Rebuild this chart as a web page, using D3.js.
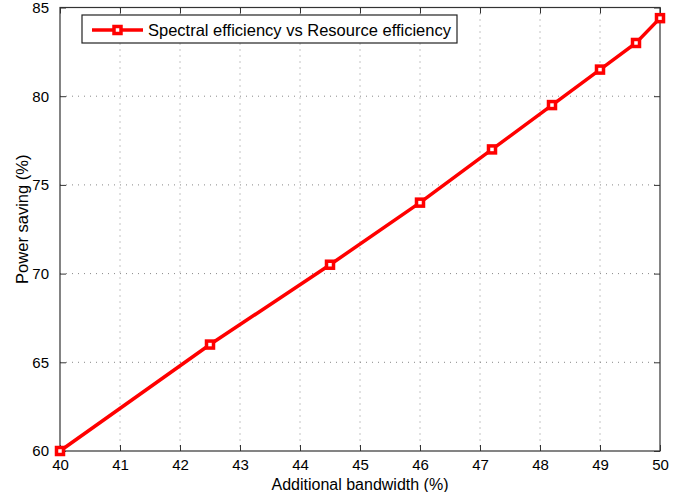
<!DOCTYPE html>
<html>
<head>
<meta charset="utf-8">
<script src="https://cdn.jsdelivr.net/npm/d3@7"></script>
<style>
  body { margin: 0; background: #fff; }
  svg text { font-family: "Liberation Sans", Arial, sans-serif; fill: #000; }
</style>
</head>
<body>
<svg class="chart" width="684" height="492"></svg>
<script>
// data
const bandwidth = [40, 42.5, 44.5, 46, 47.2, 48.2, 49, 49.6, 50];
const powerSaving = [60, 66, 70.5, 74, 77, 79.5, 81.5, 83, 84.4];
const xTicks = [40, 41, 42, 43, 44, 45, 46, 47, 48, 49, 50];
const yTicks = [60, 65, 70, 75, 80, 85];
const seriesName = "Spectral efficiency vs Resource efficiency";

const margin = {top: 7.5, right: 24, bottom: 41, left: 60},
    width = 684 - margin.left - margin.right,
    height = 492 - margin.top - margin.bottom;

const svg = d3.select(".chart")
    .append("g")
    .attr("transform", `translate(${margin.left},${margin.top})`);

const x = d3.scaleLinear().domain([40, 50]).range([0, width]);
const y = d3.scaleLinear().domain([60, 85]).range([height, 0]);

// grid
svg.append("g")
    .selectAll("line")
    .data(xTicks.slice(1, -1))
    .enter().append("line")
    .attr("x1", d => x(d)).attr("x2", d => x(d))
    .attr("y1", 0).attr("y2", height)
    .attr("stroke", "#888").attr("stroke-width", 1)
    .attr("stroke-dasharray", "1,5");

svg.append("g")
    .selectAll("line")
    .data(yTicks.slice(1, -1))
    .enter().append("line")
    .attr("y1", d => y(d)).attr("y2", d => y(d))
    .attr("x1", 0).attr("x2", width)
    .attr("stroke", "#888").attr("stroke-width", 1)
    .attr("stroke-dasharray", "1,5");

// axes, ticks inward like matlab
const tickStyle = g => {
    g.select(".domain").remove();
    g.selectAll(".tick line").attr("stroke", "#333");
    g.selectAll(".tick text")
        .style("font-size", "15px")
        .style("font-family", "Liberation Sans, Arial, sans-serif");
};

svg.append("g")
    .attr("transform", `translate(0,${height})`)
    .call(d3.axisBottom(x).tickValues(xTicks).tickSize(-6).tickPadding(8).tickFormat(d3.format("d")))
    .call(tickStyle);

svg.append("g")
    .call(d3.axisTop(x).tickValues(xTicks).tickSize(-6).tickFormat(""))
    .call(tickStyle);

svg.append("g")
    .call(d3.axisLeft(y).tickValues(yTicks).tickSize(-6).tickPadding(11).tickFormat(d3.format("d")))
    .call(tickStyle);

svg.append("g")
    .attr("transform", `translate(${width},0)`)
    .call(d3.axisRight(y).tickValues(yTicks).tickSize(-6).tickFormat(""))
    .call(tickStyle);

// box
svg.append("rect")
    .attr("width", width).attr("height", height)
    .attr("fill", "none").attr("stroke", "#333").attr("stroke-width", 1.2);

// line
const points = bandwidth.map((b, i) => ({x: b, y: powerSaving[i]}));

svg.append("path")
    .datum(points)
    .attr("fill", "none")
    .attr("stroke", "#ff0000")
    .attr("stroke-width", 3.5)
    .attr("d", d3.line().x(d => x(d.x)).y(d => y(d.y)));

const mk = 7;
svg.selectAll(".marker")
    .data(points)
    .enter().append("rect")
    .attr("class", "marker")
    .attr("x", d => x(d.x) - mk / 2)
    .attr("y", d => y(d.y) - mk / 2)
    .attr("width", mk).attr("height", mk)
    .attr("fill", "#fff")
    .attr("stroke", "#ff0000")
    .attr("stroke-width", 3.5);

// legend
const legend = svg.append("g").attr("transform", "translate(22,7.5)");
legend.append("rect")
    .attr("width", 375).attr("height", 28)
    .attr("fill", "#fff").attr("stroke", "#222").attr("stroke-width", 1.2);
legend.append("line")
    .attr("x1", 10).attr("x2", 61).attr("y1", 15).attr("y2", 15)
    .attr("stroke", "#ff0000").attr("stroke-width", 3.5);
legend.append("rect")
    .attr("x", 35.5 - mk / 2).attr("y", 15 - mk / 2)
    .attr("width", mk).attr("height", mk)
    .attr("fill", "#fff").attr("stroke", "#ff0000").attr("stroke-width", 3.5);
legend.append("text")
    .attr("x", 66).attr("y", 21)
    .style("font-size", "16.5px")
    .text(seriesName);

// axis titles
svg.append("text")
    .attr("x", width / 2).attr("y", height + 38.5)
    .attr("text-anchor", "middle")
    .style("font-size", "16px")
    .text("Additional bandwidth (%)");

svg.append("text")
    .attr("transform", `translate(-32,${height / 2 - 10}) rotate(-90)`)
    .attr("text-anchor", "middle")
    .style("font-size", "16.5px")
    .text("Power saving (%)");
</script>
</body>
</html>
